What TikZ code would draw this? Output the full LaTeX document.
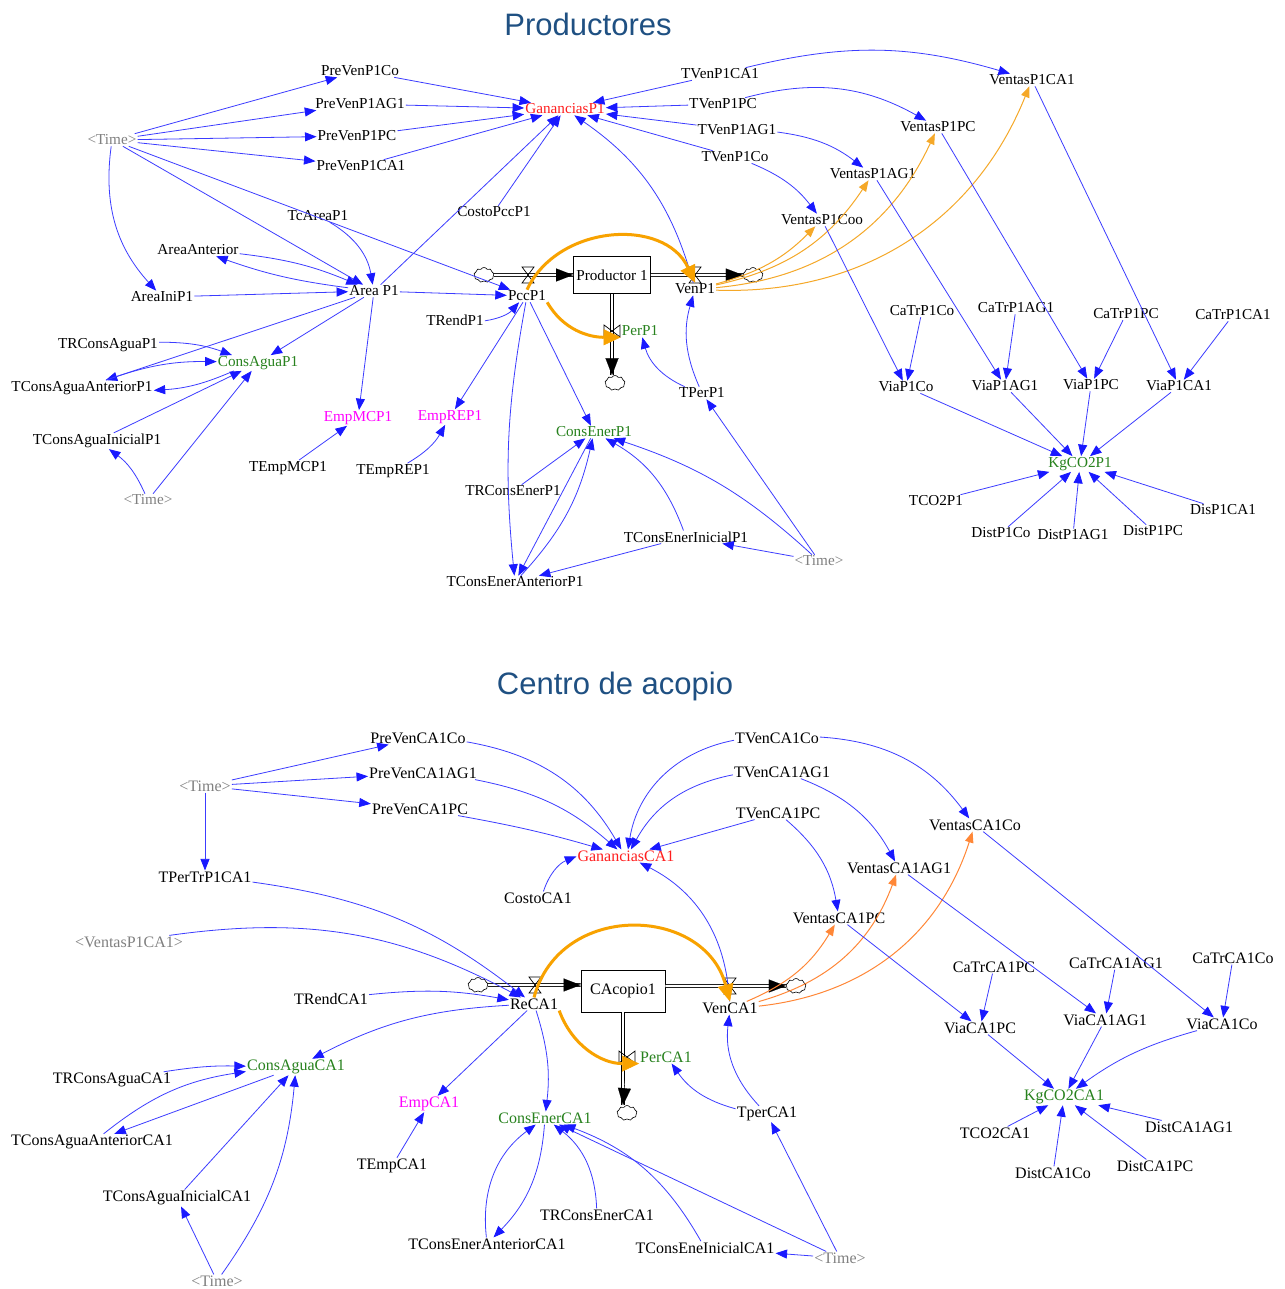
\documentclass[tikz,border=0pt]{standalone}
\usepackage{fontspec}
\setmainfont{Liberation Serif}
\newfontfamily\titlefont{Liberation Sans}
\usetikzlibrary{arrows.meta,shapes.symbols,calc}
\definecolor{lnk}{RGB}{60,60,255}
\definecolor{lnkh}{RGB}{25,25,255}
\definecolor{orT}{RGB}{248,162,0}
\definecolor{orA}{RGB}{245,168,40}
\definecolor{orB}{RGB}{255,135,55}
\definecolor{grn}{RGB}{40,130,30}
\definecolor{rd}{RGB}{255,30,30}
\definecolor{mag}{RGB}{255,0,255}
\definecolor{gry}{RGB}{128,128,128}
\definecolor{ttlc}{RGB}{31,80,130}
\newcommand\mydfont{\fontsize{15.2}{17}\selectfont}
\tikzset{
  v/.style={inner sep=1pt, font=\mydfont, text=black},
  vg/.style={v, text=grn},
  vr/.style={v, text=rd},
  vm/.style={v, text=mag},
  tm/.style={v, text=gry},
  ttl/.style={font=\titlefont\fontsize{31}{36}\selectfont, text=ttlc, inner sep=0pt},
  stock/.style={draw=black, line width=0.8pt, fill=white, font=\mydfont, inner sep=1pt},
  lk/.style={draw=lnk, line width=0.8pt, -{Triangle[length=11.5pt,width=9pt,color=lnkh,fill=lnkh]}},
  ot/.style={draw=orT, line width=3pt, -{Triangle[length=17pt,width=16pt,line width=0.5pt]}},
  otn/.style={draw=orA, line width=1pt, -{Triangle[length=11pt,width=8.5pt]}},
  otb/.style={draw=orB, line width=1pt, -{Triangle[length=11pt,width=8.5pt]}},
  pipe/.style={draw=black, line width=0.7pt, double=white, double distance=2.4pt},
  ptip/.style={draw=white, line width=0.1pt, -{Triangle[length=17pt,width=13pt,color=black,fill=black]}},
  cl/.style={cloud, cloud puffs=9, cloud puff arc=120, aspect=1.35, draw=black, line width=0.6pt, fill=white, minimum width=20pt, minimum height=15pt, inner sep=0pt},
  pics/vh/.style={code={\draw[black,line width=0.7pt] (-6,8) -- (6,8) -- (-6,-8) -- (6,-8) -- cycle;}},
  pics/vv/.style={code={\draw[black,line width=0.7pt] (-8,6) -- (-8,-6) -- (8,6) -- (8,-6) -- cycle;}},
}
\begin{document}
\begin{tikzpicture}[x=1pt,y=1pt]
\fill[white] (0,0) rectangle (1284,-1289);
\useasboundingbox (0,0) rectangle (1284,-1289);

% ================= PRODUCTORES =================
\node[ttl] (title1) at (588,-24) {Productores};

\node[tm] (t1) at (112,-140) {\textless Time\textgreater};
\node[v] (pvco) at (360,-71) {PreVenP1Co};
\node[v] (pvag) at (360,-104) {PreVenP1AG1};
\node[v] (pvpc) at (357,-136) {PreVenP1PC};
\node[v] (pvca) at (361,-166) {PreVenP1CA1};
\node[vr] (gan1) at (565,-109) {GananciasP1};
\node[v] (tvca) at (720,-74) {TVenP1CA1};
\node[v] (tvpc) at (723,-104) {TVenP1PC};
\node[v] (tvag) at (737,-130) {TVenP1AG1};
\node[v] (tvco) at (735,-157) {TVenP1Co};
\node[v] (vca) at (1032,-80) {VentasP1CA1};
\node[v] (vpc) at (938,-127) {VentasP1PC};
\node[v] (vag) at (873,-174) {VentasP1AG1};
\node[v] (vco) at (822,-220) {VentasP1Coo};
\node[v] (cpcc) at (494,-212) {CostoPccP1};
\node[v] (tca) at (318,-216) {TcAreaP1};
\node[v] (aant) at (198,-250) {AreaAnterior};
\node[v] (aini) at (162,-297) {AreaIniP1};
\node[v] (area) at (374,-291) {Area P1};
\node[v] (pcc) at (527,-296) {PccP1};
\node[stock, minimum width=77pt, minimum height=37pt] (prod) at (612,-275) {Productor 1};
\node[v] (ven) at (695,-289) {VenP1};
\node[cl] (clA) at (484,-275) {};
\node[cl] (clB) at (753,-275) {};
\node[cl] (clC) at (615,-383) {};
\coordinate (vl1) at (528,-275);
\coordinate (vl2) at (695,-275);
\coordinate (vl3) at (612,-331);
\node[vg] (per) at (640,-331) {PerP1};
\node[v] (tper) at (702,-393) {TPerP1};
\node[v] (trend) at (455,-320) {TRendP1};
\node[v] (trca) at (108,-345) {TRConsAguaP1};
\node[vg] (cagua) at (258,-363) {ConsAguaP1};
\node[v] (tcaa) at (82,-388) {TConsAguaAnteriorP1};
\node[v] (tcai) at (97,-441) {TConsAguaInicialP1};
\node[tm] (t2) at (148,-500) {\textless Time\textgreater};
\node[vm] (empmc) at (358,-418) {EmpMCP1};
\node[vm] (emprep) at (450,-417) {EmpREP1};
\node[v] (tempmc) at (288,-468) {TEmpMCP1};
\node[v] (temprep) at (393,-471) {TEmpREP1};
\node[vg] (cener) at (594,-432) {ConsEnerP1};
\node[v] (trce) at (513,-491) {TRConsEnerP1};
\node[v] (tcei) at (686,-537) {TConsEnerInicialP1};
\node[tm] (t3) at (819,-561) {\textless Time\textgreater};
\node[v] (tcea) at (515,-582) {TConsEnerAnteriorP1};
\node[v] (ctco) at (922,-311) {CaTrP1Co};
\node[v] (ctag) at (1016,-308) {CaTrP1AG1};
\node[v] (ctpc) at (1126,-314) {CaTrP1PC};
\node[v] (ctca) at (1233,-315) {CaTrP1CA1};
\node[v] (vico) at (906,-387) {ViaP1Co};
\node[v] (viag) at (1005,-386) {ViaP1AG1};
\node[v] (vipc) at (1091,-385) {ViaP1PC};
\node[v] (vica) at (1179,-386) {ViaP1CA1};
\node[vg] (kg1) at (1080,-464) {KgCO2P1};
\node[v] (tco2) at (936,-501) {TCO2P1};
\node[v] (dco) at (1001,-533) {DistP1Co};
\node[v] (dag) at (1073,-535) {DistP1AG1};
\node[v] (dpc) at (1153,-531) {DistP1PC};
\node[v] (dca) at (1223,-510) {DisP1CA1};

% flows
\draw[pipe] (clA) -- (prod);
\draw[ptip] (vl1) -- (prod);
\draw[pipe] (prod) -- (clB);
\draw[ptip] (vl2) -- (clB);
\draw[pipe] (prod.south) -- (prod.south |- clC.north);
\draw[ptip] (vl3) -- (prod.south |- clC.north);
\pic at (vl1) {vh};
\pic at (vl2) {vh};
\pic at (vl3) {vv};

% connectors
\foreach \n in {pvco,pvag,pvpc,pvca,area,pcc} \draw[lk] (t1) -- (\n);
\draw[lk] (t1) to[bend right=25] (aini);
\draw[lk] (tca) to[bend left=25] (area);
\draw[lk] (aant) to[bend left=8] (area);
\draw[lk] (area) to[bend left=6] (aant);
\draw[lk] (aini) -- (area);
\draw[lk] (area) -- (pcc);
\draw[lk] (area) -- (gan1);
\draw[lk] (cpcc) -- (gan1);
\draw[lk] (ven) to[bend right=20] (gan1);
\foreach \n in {pvco,pvag,pvpc,pvca,tvca,tvpc,tvag,tvco} \draw[lk] (\n) -- (gan1);
\draw[lk] (tvca) to[bend left=15] (vca);
\draw[lk] (tvpc) to[bend left=22] (vpc);
\draw[lk] (tvag) to[bend left=15] (vag);
\draw[lk] (tvco) to[bend left=15] (vco);
\draw[otn] (ven) to[bend right=15] (vco);
\draw[otn] (ven) to[bend right=22] (vag);
\draw[otn] (ven) to[bend right=30] (vpc);
\draw[otn] (ven) to[bend right=35] (vca);
\draw[lk] (vca) -- (vica);
\draw[lk] (vpc) -- (vipc);
\draw[lk] (vag) -- (viag);
\draw[lk] (vco) -- (vico);
\draw[lk] (ctco) -- (vico);
\draw[lk] (ctag) -- (viag);
\draw[lk] (ctpc) -- (vipc);
\draw[lk] (ctca) -- (vica);
\foreach \n in {vico,viag,vipc,vica,tco2,dco,dag,dpc,dca} \draw[lk] (\n) -- (kg1);
\draw[ot] (pcc.north) to[out=65,in=115,looseness=1.1] (ven.north);
\draw[ot] (pcc.south east) to[out=-60,in=180] (per.south west);
\draw[lk] (trend) to[bend right=20] (pcc);
\draw[lk] (pcc) -- (emprep);
\draw[lk] (pcc) to[bend right=8] (tcea);
\draw[lk] (pcc) -- (cener);
\draw[lk] (area) -- (cagua);
\draw[lk] (area) -- (tcaa);
\draw[lk] (area) -- (empmc);
\draw[lk] (trca) to[bend left=10] (cagua);
\draw[lk] (tcaa) to[bend left=10] (cagua);
\draw[lk] (cagua) to[bend left=10] (tcaa);
\draw[lk] (tcai) -- (cagua);
\draw[lk] (t2) -- (cagua);
\draw[lk] (t2) to[bend right=15] (tcai);
\draw[lk] (tempmc) -- (empmc);
\draw[lk] (temprep) to[bend right=15] (emprep);
\draw[lk] (trce) -- (cener);
\draw[lk] (cener) -- (tcea);
\draw[lk] (tcea) to[bend right=15] (cener);
\draw[lk] (tcei) to[bend right=20] (cener);
\draw[lk] (tcei) -- (tcea);
\draw[lk] (t3) -- (tcei);
\draw[lk] (t3) to[bend right=12] (cener);
\draw[lk] (t3) -- (tper);
\draw[lk] (tper) to[bend left=25] (per);
\draw[lk] (tper) to[bend left=20] (ven);

% ================= CENTRO DE ACOPIO =================
\begin{scope}
\renewcommand\mydfont{\fontsize{16}{18}\selectfont}
\node[ttl] (title2) at (615,-686) {Centro de acopio};

\node[tm] (t4) at (205,-786) {\textless Time\textgreater};
\node[v] (bpvco) at (418,-738) {PreVenCA1Co};
\node[v] (bpvag) at (423,-773) {PreVenCA1AG1};
\node[v] (bpvpc) at (420,-809) {PreVenCA1PC};
\node[vr] (gan2) at (626,-856) {GananciasCA1};
\node[v] (btvco) at (777,-738) {TVenCA1Co};
\node[v] (btvag) at (782,-772) {TVenCA1AG1};
\node[v] (btvpc) at (778,-813) {TVenCA1PC};
\node[v] (bvco) at (975,-825) {VentasCA1Co};
\node[v] (bvag) at (899,-868) {VentasCA1AG1};
\node[v] (bvpc) at (839,-918) {VentasCA1PC};
\node[v] (bcosto) at (538,-898) {CostoCA1};
\node[v] (tptr) at (205,-877) {TPerTrP1CA1};
\node[tm] (vp1ca1) at (129,-942) {\textless VentasP1CA1\textgreater};
\node[v] (brend) at (331,-999) {TRendCA1};
\node[v] (rec) at (534,-1004) {ReCA1};
\node[stock, minimum width=84pt, minimum height=42pt] (cac) at (623,-991) {CAcopio1};
\node[v] (venc) at (730,-1008) {VenCA1};
\node[cl] (bclA) at (478,-985) {};
\node[cl] (bclB) at (796,-986) {};
\node[cl] (bclC) at (627,-1113) {};
\coordinate (bvl1) at (535,-985);
\coordinate (bvl2) at (730,-986);
\coordinate (bvl3) at (627,-1057);
\node[vg] (perc) at (666,-1057) {PerCA1};
\node[v] (tperc) at (767,-1114) {TperCA1};
\node[vg] (cac2) at (296,-1067) {ConsAguaCA1};
\node[v] (btrca) at (112,-1080) {TRConsAguaCA1};
\node[v] (btcaa) at (92,-1142) {TConsAguaAnteriorCA1};
\node[v] (btcai) at (177,-1198) {TConsAguaInicialCA1};
\node[tm] (t5) at (217,-1281) {\textless Time\textgreater};
\node[vm] (bemp) at (429,-1104) {EmpCA1};
\node[v] (btemp) at (392,-1166) {TEmpCA1};
\node[vg] (bcener) at (545,-1118) {ConsEnerCA1};
\node[v] (btrce) at (597,-1215) {TRConsEnerCA1};
\node[v] (btcea) at (487,-1244) {TConsEnerAnteriorCA1};
\node[v] (btcei) at (705,-1248) {TConsEneInicialCA1};
\node[tm] (t6) at (840,-1258) {\textless Time\textgreater};
\node[v] (bctpc) at (994,-967) {CaTrCA1PC};
\node[v] (bctag) at (1116,-963) {CaTrCA1AG1};
\node[v] (bctco) at (1233,-958) {CaTrCA1Co};
\node[v] (bvipc) at (980,-1028) {ViaCA1PC};
\node[v] (bviag) at (1105,-1020) {ViaCA1AG1};
\node[v] (bvico) at (1222,-1024) {ViaCA1Co};
\node[vg] (kg2) at (1064,-1097) {KgCO2CA1};
\node[v] (btco2) at (995,-1133) {TCO2CA1};
\node[v] (bdco) at (1053,-1173) {DistCA1Co};
\node[v] (bdpc) at (1155,-1166) {DistCA1PC};
\node[v] (bdag) at (1189,-1127) {DistCA1AG1};

% flows
\draw[pipe] (bclA) -- (bclA -| cac.west);
\draw[ptip] (bvl1) -- (bclA -| cac.west);
\draw[pipe] (bclB -| cac.east) -- (bclB);
\draw[ptip] (bvl2) -- (bclB);
\draw[pipe] (cac.south) -- (cac.south |- bclC.north);
\draw[ptip] (bvl3) -- (cac.south |- bclC.north);
\pic at (bvl1) {vh};
\pic at (bvl2) {vh};
\pic at (bvl3) {vv};

% connectors
\foreach \n in {bpvco,bpvag,bpvpc,tptr} \draw[lk] (t4) -- (\n);
\draw[lk] (bpvco) to[bend left=25] (gan2);
\draw[lk] (bpvag) to[bend left=15] (gan2);
\draw[lk] (bpvpc) to[bend left=3] (gan2);
\draw[lk] (btvco) to[bend right=35] (gan2);
\draw[lk] (btvag) to[bend right=25] (gan2);
\draw[lk] (btvpc) -- (gan2);
\draw[lk] (btvco) to[bend left=25] (bvco);
\draw[lk] (btvag) to[bend left=20] (bvag);
\draw[lk] (btvpc) to[bend left=20] (bvpc);
\draw[lk] (bcosto) to[bend left=25] (gan2);
\draw[lk] (venc) to[bend right=30] (gan2);
\draw[lk] (tptr) to[bend left=15] (rec);
\draw[lk] (vp1ca1) to[bend left=18] (rec);
\draw[lk] (brend) to[bend left=8] (rec);
\draw[lk] (rec) to[bend right=12] (cac2);
\draw[lk] (rec) -- (bemp);
\draw[lk] (rec) to[bend left=12] (bcener);
\draw[ot] (rec.north) to[out=75,in=105,looseness=1.3] (venc.north);
\draw[ot] (rec.south east) to[out=-70,in=180] (perc.south west);
\draw[otb] (venc) to[bend right=18] (bvpc);
\draw[otb] (venc) to[bend right=27] (bvag);
\draw[otb] (venc) to[bend right=33] (bvco);
\draw[lk] (bvco) -- (bvico);
\draw[lk] (bvag) -- (bviag);
\draw[lk] (bvpc) -- (bvipc);
\draw[lk] (bctpc) -- (bvipc);
\draw[lk] (bctag) -- (bviag);
\draw[lk] (bctco) -- (bvico);
\draw[lk] (bvipc) -- (kg2);
\draw[lk] (bviag) -- (kg2);
\draw[lk] (bvico) to[bend right=10] (kg2);
\foreach \n in {btco2,bdco,bdpc,bdag} \draw[lk] (\n) -- (kg2);
\draw[lk] (tperc) to[bend left=20] (perc);
\draw[lk] (tperc) to[bend left=25] (venc);
\draw[lk] (t6) -- (tperc);
\draw[lk] (t6) -- (btcei);
\draw[lk] (t6) -- (bcener);
\draw[lk] (btcei) to[bend right=20] (bcener);
\draw[lk] (btrce) to[bend right=25] (bcener);
\draw[lk] (bcener) to[bend left=20] (btcea);
\draw[lk] (btcea) to[bend left=30] (bcener);
\draw[lk] (btemp) -- (bemp);
\draw[lk] (btrca) to[bend left=5] (cac2);
\draw[lk] (btcaa) to[bend left=15] (cac2);
\draw[lk] (cac2) -- (btcaa);
\draw[lk] (btcai) -- (cac2);
\draw[lk] (t5) -- (btcai);
\draw[lk] (t5) to[bend right=15] (cac2);
\end{scope}
\end{tikzpicture}
\end{document}
